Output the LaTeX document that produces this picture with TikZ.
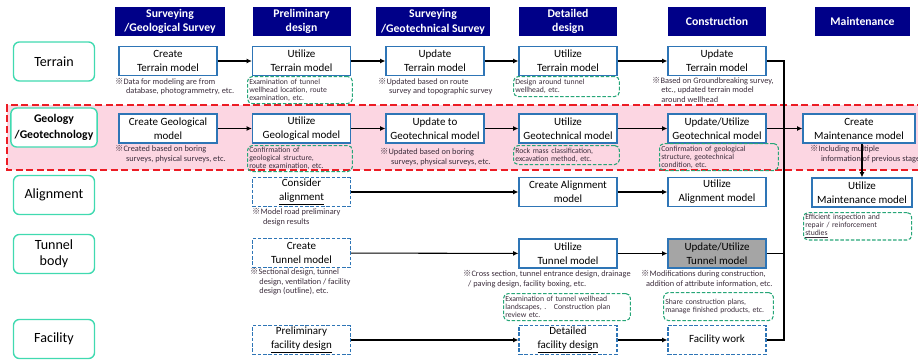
\documentclass[tikz,border=0pt]{standalone}
\usepackage{fontspec}
\setmainfont{Carlito}
\newfontfamily\cjk{Noto Sans CJK JP}
\usetikzlibrary{arrows.meta, positioning, calc}
\definecolor{headnavy}{RGB}{0,0,136}
\definecolor{modelblue}{RGB}{46,117,182}
\definecolor{rowteal}{RGB}{64,218,176}
\definecolor{notegreen}{RGB}{38,166,120}
\definecolor{bandpink}{RGB}{252,214,226}
\definecolor{bandred}{RGB}{236,28,36}
\definecolor{tunnelgray}{RGB}{165,165,165}
\definecolor{remarkink}{RGB}{60,45,60}
\newcommand{\refmark}{{\cjk ※}}
\tikzset{
    phase/.style={rectangle, fill=headnavy, text=white, font=\fontsize{10}{12.5}\selectfont\bfseries, minimum width=2.94cm, minimum height=0.87cm, align=center, inner sep=1pt},
    rowlabel/.style={rectangle, rounded corners=5pt, draw=rowteal, line width=1.2pt, fill=white, minimum width=2.43cm, minimum height=1.17cm, align=center, font=\fontsize{12}{13.5}\selectfont},
    model/.style={rectangle, draw=modelblue, line width=1pt, fill=white, minimum width=2.94cm, minimum height=0.87cm, align=center, font=\fontsize{9.4}{12}\selectfont, inner sep=1pt},
    plan/.style={model, dash pattern=on 3pt off 1.5pt},
    remark/.style={anchor=north west, inner sep=0pt, align=left, text=remarkink, font=\fontsize{7.1}{8.2}\selectfont},
    memo/.style={anchor=north west, rectangle, rounded corners=4pt, draw=notegreen, line width=0.9pt, dash pattern=on 3pt off 1.5pt, inner sep=1.5pt, align=left, text=remarkink, font=\fontsize{6.6}{6.9}\selectfont},
    flow/.style={-{Latex[length=1.6mm, width=1.5mm]}, line width=0.9pt},
    link/.style={line width=0.9pt},
}

\begin{document}
\begin{tikzpicture}[x=0.03cm, y=-0.03cm]
    \useasboundingbox (0,0) rectangle (918,360);
    % geology band
    \fill[bandpink] (7,105) rectangle (935,170);
    \draw[bandred, line width=1pt, dash pattern=on 6pt off 3pt] (935,105) -- (7,105) -- (7,170) -- (935,170);

    % phases
    \node[phase, minimum width=3.3cm] (hsurv) at (170,21.5) {Surveying\\/Geological Survey};
    \node[phase] (hpre) at (301.5,21.5) {Preliminary\\design};
    \node[phase, minimum width=3.42cm] (hgeo) at (433,21.5) {Surveying\\/Geotechnical Survey};
    \node[phase] (hdet) at (568,21.5) {Detailed\\design};
    \node[phase] (hcon) at (717,21.5) {Construction};
    \node[phase, minimum width=2.85cm] (hmnt) at (862.5,21.5) {Maintenance};

    % rows
    \node[rowlabel] (rter) at (54,61.5) {Terrain};
    \node[rowlabel, font=\fontsize{10}{13.5}\selectfont\bfseries] (rgeo) at (54,127.5) {Geology\\/Geotechnology};
    \node[rowlabel] (rali) at (54,195) {Alignment};
    \node[rowlabel] (rtun) at (54,254) {Tunnel\\body};
    \node[rowlabel] (rfac) at (54,339) {Facility};

    % terrain
    \node[model] (tsurv) at (168,61) {Create\\Terrain model};
    \node[model] (tpre) at (301.5,61) {Utilize\\Terrain model};
    \node[model] (tgeo) at (435,61) {Update\\Terrain model};
    \node[model] (tdet) at (568,61) {Utilize\\Terrain model};
    \node[model] (tcon) at (717,61) {Update\\Terrain model};
    \draw[flow] (tsurv) -- (tpre);
    \draw[flow] (tpre) -- (tgeo);
    \draw[flow] (tgeo) -- (tdet);
    \draw[flow] (tdet) -- (tcon);
    \node[remark] (tsurvnote) at (115,78) {\refmark Data for modeling are from\\\hspace*{1.3em}database, photogrammetry, etc.};
    \node[memo, text width=3.04cm, minimum height=0.81cm] (tprememo) at (247,76) {Examination of tunnel\\wellhead location, route\\examination, etc.};
    \node[remark] (tgeonote) at (378,78) {\refmark Updated based on route\\\hspace*{1.3em}survey and topographic survey};
    \node[memo, text width=3.07cm, minimum height=0.6cm] (tdetmemo) at (513,76) {Design around tunnel\\wellhead, etc.};
    \node[remark] (tconnote) at (652,77) {\refmark Based on Groundbreaking survey,\\\hspace*{1.1em}etc., updated terrain model\\\hspace*{1.1em}around wellhead};

    % geology
    \node[model] (gsurv) at (168,128.5) {Create Geological\\model};
    \node[model] (gpre) at (301.5,128.5) {Utilize\\Geological model};
    \node[model] (ggeo) at (435,128.5) {Update to\\Geotechnical model};
    \node[model] (gdet) at (568,128.5) {Utilize\\Geotechnical model};
    \node[model] (gcon) at (717,128.5) {Update/Utilize\\Geotechnical model};
    \node[model, minimum width=3.36cm] (gmnt) at (859,128.5) {Create\\Maintenance model};
    \draw[flow] (gsurv) -- (gpre);
    \draw[flow] (gpre) -- (ggeo);
    \draw[flow] (ggeo) -- (gdet);
    \draw[flow] (gdet) -- (gcon);
    \draw[flow] (gcon) -- (gmnt);
    \node[remark] (gsurvnote) at (115,145) {\refmark Created based on boring\\\hspace*{1.3em}surveys, physical surveys, etc.};
    \node[memo, text width=3.04cm, minimum height=0.75cm] (gprememo) at (247,145) {Confirmation of\\geological structure,\\route examination, etc.};
    \node[remark] (ggeonote) at (380,148) {\refmark Updated based on boring\\\hspace*{1.3em}surveys, physical surveys, etc.};
    \node[memo, text width=3.07cm, minimum height=0.57cm] (gdetmemo) at (513,145) {Rock mass classification,\\excavation method, etc.};
    \node[memo, text width=3.46cm, minimum height=0.81cm] (gconmemo) at (659,143) {Confirmation of geological\\structure, geotechnical\\condition, etc.};
    \node[remark] (gmntnote) at (810,145) {\refmark Including multiple\\\hspace*{1.3em}information of previous stages};

    % alignment
    \node[plan] (apre) at (301.5,192) {Consider\\\underline{alignment}};
    \node[model] (adet) at (568,192) {Create Alignment\\model};
    \node[model] (acon) at (717,192) {Utilize\\Alignment model};
    \node[model, minimum width=3cm] (amnt) at (862,192.5) {Utilize\\Maintenance model};
    \draw[flow] (apre) -- (adet);
    \draw[flow] (adet) -- (acon);
    \draw[flow] (gmnt.south -| amnt.north) -- (amnt.north);
    \node[remark] (aprenote) at (252,208) {\refmark Model road preliminary\\\hspace*{1.3em}design results};
    \node[memo, text width=3.14cm, minimum height=0.78cm] (amntmemo) at (803,212) {Efficient inspection and\\repair / reinforcement\\\underline{studies}};

    % tunnel body
    \node[plan] (upre) at (301.5,253) {Create\\Tunnel model};
    \node[model] (udet) at (568,253.5) {Utilize\\Tunnel model};
    \node[model, fill=tunnelgray] (ucon) at (717,253.5) {Update/Utilize\\Tunnel model};
    \draw[flow] (upre) -- (udet);
    \draw[flow] (udet) -- (ucon);
    \node[remark] (uprenote) at (250,268) {\refmark Sectional design, tunnel\\\hspace*{1.1em}design, ventilation / facility\\\hspace*{1.1em}design (outline), etc.};
    \node[remark] (udetnote) at (463,270) {\refmark Cross section, tunnel entrance design, drainage\\\hspace*{0.6em}/ paving design, facility boxing, etc.};
    \node[remark] (uconnote) at (641,270) {\refmark Modifications during construction,\\\hspace*{0.6em}addition of attribute information, etc.};
    \node[memo, text width=3.7cm, minimum height=0.81cm] (udetmemo) at (503,293) {Examination of tunnel wellhead\\landscapes, .\quad Construction plan\\review etc.};
    \node[memo, text width=3.19cm, minimum height=0.84cm] (uconmemo) at (663,292) {Share construction plans,\\manage finished products, etc.};

    % facility
    \node[plan] (fpre) at (301.5,340) {Preliminary\\\underline{facility design}};
    \node[plan] (fdet) at (568,340) {Detailed\\\underline{facility design}};
    \node[plan] (fcon) at (717,340) {Facility work};
    \draw[flow] (fpre) -- (fdet);
    \draw[flow] (fdet) -- (fcon);

    % collecting line to maintenance
    \coordinate (bustop) at (784,61);
    \coordinate (busend) at (784,340);
    \draw[link] (tcon.east) -- (bustop) -- (busend) -- (fcon.east);
    \draw[link] (ucon.east) -- (ucon.east -| bustop);
\end{tikzpicture}
\end{document}
